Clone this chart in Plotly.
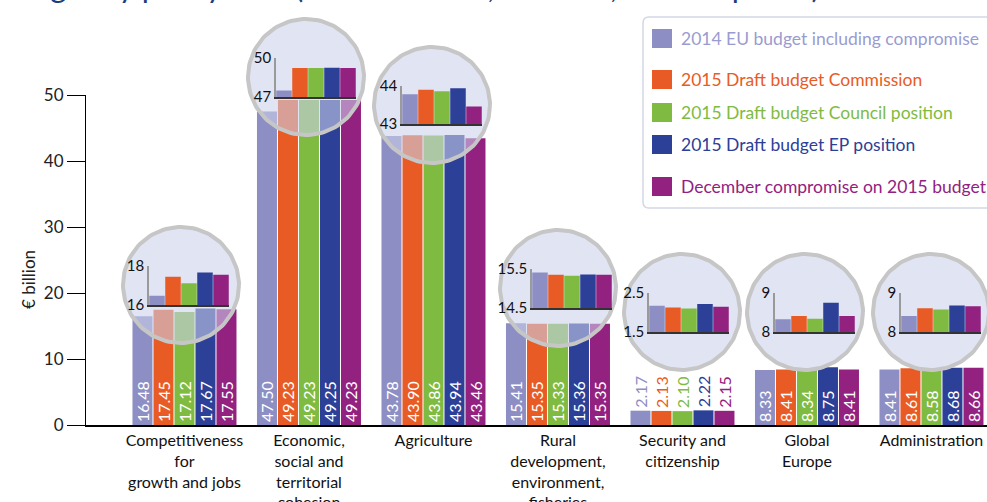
import numpy as np
import plotly.graph_objects as go

# ---------------- data ----------------
categories = ["Competitiveness<br>for<br>growth and jobs",
              "Economic,<br>social and<br>territorial<br>cohesion",
              "Agriculture",
              "Rural<br>development,<br>environment,<br>fisheries",
              "Security and<br>citizenship",
              "Global<br>Europe",
              "Administration"]
series_names = ["2014 EU budget including compromise",
                "2015 Draft budget Commission",
                "2015 Draft budget Council position",
                "2015 Draft budget EP position",
                "December compromise on 2015 budget"]
budget_2014 = [16.48, 47.50, 43.78, 15.41, 2.17, 8.33, 8.41]
draft_commission = [17.45, 49.23, 43.90, 15.35, 2.13, 8.41, 8.61]
draft_council = [17.12, 49.23, 43.86, 15.33, 2.10, 8.34, 8.58]
draft_ep = [17.67, 49.25, 43.94, 15.36, 2.22, 8.75, 8.68]
december_compromise = [17.55, 49.23, 43.46, 15.35, 2.15, 8.41, 8.66]
zoom_low = [16, 47, 43, 14.5, 1.5, 8, 8]
zoom_high = [18, 50, 44, 15.5, 2.5, 9, 9]
y_ticks = [0, 10, 20, 30, 40, 50]

series_values = [budget_2014, draft_commission, draft_council, draft_ep, december_compromise]
colors = ["#8d8fc4", "#e95b25", "#7fbb41", "#2c4098", "#93217f"]
legend_text_colors = ["#9a9cd0", "#e95b25", "#7fbb41", "#2c4098", "#93217f"]

# ---------------- layout helpers ----------------
W, H = 987, 502
FONT = "Lato"
def fx(px):
    return px / W
def fy(py):
    return 1 - py / H

fig = go.Figure()

# main grouped bars (explicit offsets)
slot = 21 / 124.5
bw = 20 / 124.5
xs = list(range(len(categories)))
for i, (name, vals, col) in enumerate(zip(series_names, series_values, colors)):
    off = -2.5 * slot + i * slot + (slot - bw) / 2
    fig.add_trace(go.Bar(
        x=xs, y=vals, name=name, width=bw, offset=off,
        marker=dict(color=col, line=dict(width=0)),
        text=[f"{v:.2f}" for v in vals],
        textposition=["outside" if v < 5 else "inside" for v in vals],
        insidetextanchor="start", textangle=-90,
        insidetextfont=dict(color="white", size=16, family=FONT),
        outsidetextfont=dict(color=col, size=16, family=FONT),
        constraintext="none", cliponaxis=False,
        xaxis="x", yaxis="y", showlegend=False, hoverinfo="skip"))

# magnifier circles (overlay pixel axes)
circle_centers = [(181, 285), (306, 77), (432, 105), (558, 288), (682, 312), (805, 312), (931, 312)]
R = 58
t = np.linspace(0, 2 * np.pi, 121)
for (cx, cy) in circle_centers:
    fig.add_trace(go.Scatter(
        x=cx + R * np.cos(t), y=cy + R * np.sin(t), mode="lines", fill="toself",
        fillcolor="rgba(203,208,234,0.58)", line=dict(color="#c6c6c6", width=4),
        xaxis="x2", yaxis="y2", showlegend=False, hoverinfo="skip"))

# inset zoomed bar charts
inset_left = [149, 276, 402, 532, 649, 775, 901]
inset_top = [266, 58, 86, 269, 293, 293, 293]
inset_base = [305, 97, 124, 308, 332, 332, 332]
layout_axes = {}
for k in range(len(categories)):
    n = k + 3
    vals = [s[k] for s in series_values]
    fig.add_trace(go.Bar(
        x=list(range(5)), y=vals, width=0.97, marker=dict(color=colors, line=dict(width=0)),
        xaxis=f"x{n}", yaxis=f"y{n}", showlegend=False, hoverinfo="skip"))
    layout_axes[f"xaxis{n}"] = dict(
        domain=[fx(inset_left[k]), fx(inset_left[k] + 80)], range=[-0.5, 4.5],
        anchor=f"y{n}", showline=True, linecolor="#333333", linewidth=1.5,
        showticklabels=False, ticks="", showgrid=False, zeroline=False,
        fixedrange=True, automargin=False)
    layout_axes[f"yaxis{n}"] = dict(
        domain=[fy(inset_base[k]), fy(inset_top[k])], range=[zoom_low[k], zoom_high[k]],
        anchor=f"x{n}", showline=True, linecolor="#9a9a9a", linewidth=1.5,
        tickvals=[zoom_low[k], zoom_high[k]], ticktext=[f"{zoom_low[k]:g}", f"{zoom_high[k]:g}"],
        ticks="", tickfont=dict(size=15, color="#111111", family=FONT),
        showgrid=False, zeroline=False, fixedrange=True, automargin=False)

shapes = []
annotations = []

# legend box
lx0, ly0, lx1, ly1, rr = 643, 17, 1000, 208, 6
shapes.append(dict(
    type="path", xref="paper", yref="paper", layer="below",
    path=(f"M {fx(lx0 + rr)} {fy(ly0)} L {fx(lx1)} {fy(ly0)} L {fx(lx1)} {fy(ly1)} "
          f"L {fx(lx0 + rr)} {fy(ly1)} Q {fx(lx0)} {fy(ly1)} {fx(lx0)} {fy(ly1 - rr)} "
          f"L {fx(lx0)} {fy(ly0 + rr)} Q {fx(lx0)} {fy(ly0)} {fx(lx0 + rr)} {fy(ly0)} Z"),
    line=dict(color="#d3d7e6", width=1.5), fillcolor="white"))
legend_rows = [38.5, 79.5, 112.5, 144.5, 186.5]
for name, col, tcol, yc in zip(series_names, colors, legend_text_colors, legend_rows):
    shapes.append(dict(type="rect", xref="paper", yref="paper", layer="above",
                       x0=fx(652), x1=fx(672), y0=fy(yc + 9.5), y1=fy(yc - 9.5),
                       fillcolor=col, line=dict(width=0)))
    annotations.append(dict(text=name, xref="paper", yref="paper", x=fx(679), y=fy(yc),
                            xanchor="left", yanchor="middle", showarrow=False,
                            font=dict(size=17.5, color=tcol, family=FONT)))

# y-axis title
annotations.append(dict(text="€ billion", xref="paper", yref="paper", x=fx(28), y=fy(280),
                        textangle=-90, showarrow=False, xanchor="center", yanchor="middle",
                        font=dict(size=17, color="#222222", family=FONT)))
# cut-off title at top (only the descenders remain visible)
annotations.append(dict(text="Budget by policy area (commitments, € billion, current prices)",
                        xref="paper", yref="paper", x=fx(822), y=1, yshift=-7,
                        xanchor="right", yanchor="bottom", showarrow=False,
                        font=dict(size=31, color="#1f3c7c", family=FONT)))

fig.update_layout(
    width=W, height=H, margin=dict(l=0, r=0, t=0, b=0, autoexpand=False), autosize=False,
    paper_bgcolor="white", plot_bgcolor="rgba(0,0,0,0)",
    barmode="overlay", showlegend=False, uniformtext=dict(minsize=16, mode="show"),
    font=dict(family=FONT, color="#111111"),
    xaxis=dict(domain=[fx(86), 1], range=[-0.791, 6.446], anchor="y",
               tickvals=xs, ticktext=categories, ticks="", showline=True,
               linecolor="black", linewidth=1.5, showgrid=False, zeroline=False,
               tickfont=dict(size=16, color="#111111", family=FONT), fixedrange=True,
               automargin=False),
    yaxis=dict(domain=[fy(425), fy(95)], range=[0, 50], anchor="x",
               tickvals=y_ticks, ticks="outside", ticklen=18, tickcolor="black", tickwidth=1,
               showline=True, linecolor="black", linewidth=1.2, showgrid=False, zeroline=False,
               tickfont=dict(size=17, color="#222222", family=FONT), fixedrange=True,
               automargin=False),
    xaxis2=dict(domain=[0, 1], range=[0, W], anchor="y2", visible=False, fixedrange=True,
                automargin=False),
    yaxis2=dict(domain=[0, 1], range=[H, 0], anchor="x2", visible=False, fixedrange=True,
                automargin=False),
    shapes=shapes, annotations=annotations,
    **layout_axes)

fig.write_html("out.html")
